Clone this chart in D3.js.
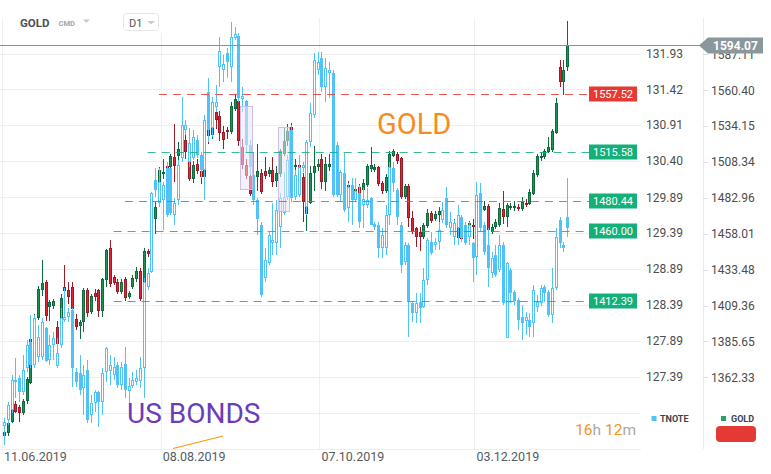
<!DOCTYPE html>
<html><head><meta charset="utf-8">
<script src="https://cdn.jsdelivr.net/npm/d3@7"></script>
<style>body{margin:0;background:#fff;}svg{display:block;font-family:Roboto,"Noto Sans",sans-serif;}</style>
</head><body><svg id="c" width="771" height="474"></svg>
<script>
// ---------- DATA ----------
const holidays = ["2019-12-25","2020-01-01"];
const xTickDates = ["2019-06-11","2019-08-08","2019-10-07","2019-12-03"];
const tnoteTicks = [131.93,131.42,130.91,130.40,129.89,129.39,128.89,128.39,127.89,127.39];
const tnoteExtraGrid = [126.89,126.39];
const goldTicks = [1587.11,1560.40,1534.15,1508.34,1482.96,1458.01,1433.48,1409.36,1385.65,1362.33];
const levels = [
 {price:1557.52, label:"1557.52", color:"#e53935", from:"2019-08-07"},
 {price:1515.58, label:"1515.58", color:"#14b07a", from:"2019-08-02"},
 {price:1480.44, label:"1480.44", color:"#14b07a", from:"2019-07-25"},
 {price:1460.00, label:"1460.00", color:"#14b07a", from:"2019-07-22"},
 {price:1412.39, label:"1412.39", color:"#14b07a", from:"2019-07-22"}
];
const boxes = [
 {from:"2019-09-06", to:"2019-09-10", top:1548.8, bottom:1489.4},
 {from:"2019-09-20", to:"2019-09-24", top:1533.5, bottom:1473.7}
];
// [open, high, low, close]
const goldOHLC = [
[1325.4,1329.2,1324.2,1327.9],[1326.7,1334.2,1325.4,1333.0],[1333.6,1343.1,1333.0,1341.8],[1345.0,1346.9,1339.3,1340.5],
[1343.1,1344.4,1334.2,1339.9],[1339.9,1348.2,1338.6,1346.9],[1346.9,1362.3,1345.6,1361.0],[1359.0,1389.0,1357.8,1387.0],
[1383.7,1403.5,1382.5,1400.2],[1400.8,1422.3,1399.5,1420.2],[1419.5,1439.8,1416.1,1424.2],[1424.9,1426.2,1398.9,1402.2],
[1408.1,1412.8,1398.9,1411.5],[1409.4,1413.5,1406.8,1412.1],[1394.9,1398.9,1381.8,1383.7],[1398.9,1416.8,1396.9,1414.2],
[1421.6,1436.4,1413.5,1418.8],[1419.5,1424.9,1410.7,1414.8],[1421.6,1425.5,1403.5,1406.8],[1400.2,1403.5,1393.0,1394.9],
[1395.6,1399.5,1387.0,1398.2],[1398.2,1420.9,1391.6,1419.5],[1419.5,1420.9,1401.5,1404.2],[1404.8,1416.8,1403.5,1415.5],
[1417.5,1420.2,1412.1,1414.8],[1419.5,1420.2,1401.5,1405.5],[1405.5,1427.6,1401.5,1426.9],[1426.2,1447.3,1421.6,1446.6],
[1448.0,1453.5,1421.6,1423.5],[1428.3,1429.6,1422.9,1424.2],[1425.5,1426.9,1416.8,1418.2],[1418.2,1426.9,1416.8,1425.5],
[1426.9,1428.3,1412.1,1414.2],[1414.8,1418.8,1413.5,1417.5],[1421.6,1429.6,1420.2,1427.6],[1426.9,1435.1,1425.5,1432.3],
[1432.3,1434.4,1412.1,1413.5],[1414.8,1448.0,1411.5,1445.9],[1445.9,1447.3,1441.9,1443.9],[1443.9,1466.6,1441.9,1463.8],
[1468.0,1479.8,1457.6,1476.3],[1484.0,1504.5,1481.9,1502.4],[1499.6,1510.2,1496.0,1501.0],[1505.2,1506.6,1499.6,1500.3],
[1504.5,1513.8,1503.1,1512.4],[1511.6,1535.5,1493.9,1505.2],[1512.4,1522.4,1508.8,1517.4],[1513.8,1526.0,1512.4,1522.4],
[1523.9,1531.8,1510.2,1515.2],[1510.2,1511.6,1494.6,1496.0],[1496.0,1508.8,1493.2,1505.9],[1506.6,1510.2,1499.6,1501.7],
[1501.7,1506.6,1492.5,1497.4],[1497.4,1527.5,1491.8,1525.3],[1533.3,1553.7,1521.0,1526.7],[1527.5,1545.0,1524.6,1535.5],
[1544.2,1550.0,1531.8,1538.4],[1541.3,1545.0,1523.2,1528.9],[1529.6,1534.0,1517.4,1523.9],[1531.1,1533.3,1524.6,1529.6],
[1529.6,1551.5,1528.2,1548.6],[1546.4,1557.4,1545.0,1553.7],[1552.2,1557.4,1519.6,1523.2],[1518.8,1524.6,1503.1,1505.9],
[1505.9,1510.2,1496.0,1498.1],[1498.1,1501.7,1484.0,1485.4],[1495.3,1508.8,1491.8,1498.1],[1497.4,1521.0,1487.5,1501.7],
[1500.3,1503.1,1485.4,1486.8],[1501.7,1511.6,1496.0,1498.1],[1499.6,1504.5,1497.4,1502.4],[1502.4,1511.6,1490.3,1493.9],
[1494.6,1505.2,1490.3,1500.3],[1499.6,1517.4,1497.4,1516.0],[1513.8,1533.3,1512.4,1523.2],[1523.2,1535.5,1519.6,1530.4],
[1533.3,1536.2,1516.0,1517.4],[1504.5,1510.2,1501.7,1505.9],[1505.9,1510.2,1499.6,1501.7],[1497.4,1500.3,1465.9,1479.8],
[1471.5,1480.5,1459.6,1479.8],[1479.1,1505.2,1478.4,1500.3],[1500.3,1519.6,1487.5,1505.2],[1504.5,1510.2,1501.7,1506.6],
[1510.2,1513.8,1488.9,1493.9],[1493.9,1511.6,1487.5,1506.6],[1504.5,1513.8,1501.7,1506.6],[1506.6,1517.4,1492.5,1493.9],
[1493.9,1501.7,1485.4,1488.9],[1487.5,1498.8,1485.4,1494.6],[1493.2,1497.4,1487.5,1491.1],[1491.8,1494.6,1486.8,1490.3],
[1486.8,1493.2,1483.3,1491.1],[1484.0,1491.8,1481.9,1488.9],[1490.3,1492.5,1483.3,1485.4],[1488.2,1496.0,1485.4,1493.2],
[1491.8,1506.6,1490.3,1505.2],[1503.1,1518.8,1501.0,1505.9],[1502.4,1506.6,1501.0,1504.5],[1504.5,1505.2,1491.1,1492.5],
[1493.2,1494.6,1485.4,1487.5],[1487.5,1499.6,1486.1,1497.4],[1497.4,1516.0,1496.0,1513.8],[1512.4,1517.4,1511.6,1516.0],
[1513.8,1515.2,1506.6,1508.8],[1510.9,1511.6,1481.9,1483.3],[1483.3,1492.5,1481.9,1491.1],[1491.1,1492.5,1462.4,1468.7],
[1468.7,1473.5,1457.6,1459.0],[1461.7,1462.4,1448.7,1455.6],[1459.0,1462.4,1446.0,1455.6],[1455.6,1465.2,1454.2,1463.8],
[1463.1,1474.9,1461.7,1472.1],[1472.1,1473.5,1465.2,1466.6],[1468.0,1473.5,1466.6,1471.5],[1470.8,1476.3,1465.9,1473.5],
[1469.4,1474.9,1466.6,1472.1],[1472.1,1476.3,1463.8,1467.3],[1465.2,1469.4,1461.0,1463.1],[1462.4,1468.0,1456.9,1465.2],
[1454.9,1463.8,1454.2,1462.4],[1455.6,1457.6,1452.1,1454.2],[1459.6,1462.4,1454.2,1456.9],[1455.6,1466.6,1454.2,1465.2],
[1463.8,1468.0,1454.2,1462.4],[1462.4,1477.7,1459.6,1474.9],[1474.9,1478.4,1470.8,1473.5],[1474.2,1480.5,1473.5,1477.0],
[1477.0,1478.4,1459.6,1460.3],[1459.0,1464.5,1457.6,1462.4],[1462.4,1468.0,1461.0,1465.9],[1463.8,1479.1,1462.4,1475.6],
[1474.9,1487.5,1464.5,1469.4],[1469.4,1479.1,1462.4,1477.7],[1475.6,1479.1,1474.2,1477.0],[1475.6,1480.5,1473.5,1477.0],
[1476.3,1478.4,1473.5,1474.9],[1474.9,1483.3,1473.5,1479.8],[1479.1,1481.9,1476.3,1477.7],[1478.4,1488.9,1477.7,1486.8],
[1485.4,1502.4,1484.7,1500.3],[1498.8,1513.8,1497.4,1512.4],[1511.6,1515.2,1508.8,1512.4],[1511.6,1517.4,1510.2,1516.0],
[1515.2,1526.0,1514.5,1518.8],[1516.7,1531.8,1515.2,1530.4],[1529.0,1554.5,1528.2,1550.8],[1577.4,1582.6,1562.6,1566.3],
[1566.3,1582.6,1556.7,1575.2],[1577.4,1612.1,1574.4,1594.07]
];
const tnoteOHLC = [
[126.71,126.82,126.45,126.77],[126.79,127.04,126.73,127.00],[126.93,127.41,126.89,127.35],[127.35,127.65,127.10,127.32],
[127.37,127.41,127.04,127.18],[127.18,127.69,127.14,127.48],[127.51,127.90,127.46,127.83],[127.87,128.25,127.51,127.55],
[127.55,128.25,127.51,128.20],[127.66,128.11,127.59,127.94],[127.66,128.20,127.62,128.15],[128.06,128.08,127.59,127.61],
[127.62,127.97,127.55,127.83],[127.83,128.01,127.62,127.93],[127.54,127.93,127.51,127.72],[127.83,128.34,127.79,128.20],
[128.18,128.62,128.15,128.22],[128.22,128.34,128.15,128.29],[128.31,128.34,127.25,127.51],[127.46,127.51,127.25,127.32],
[127.44,127.69,127.14,127.21],[127.24,127.55,126.86,127.41],[127.48,127.62,126.75,126.79],[126.86,127.14,126.75,127.03],
[127.03,127.21,126.90,127.18],[127.18,127.19,126.70,127.04],[127.04,127.51,126.86,127.44],[127.46,127.80,127.32,127.79],
[127.47,127.69,127.28,127.55],[127.41,127.66,127.35,127.52],[127.55,127.59,127.24,127.28],[127.28,127.59,127.21,127.52],
[127.57,127.80,127.10,127.21],[127.19,127.37,127.03,127.26],[127.26,127.46,127.24,127.35],[127.32,127.48,127.28,127.37],
[127.33,127.66,127.24,127.51],[127.51,128.76,127.10,128.70],[128.63,128.90,128.59,128.83],[128.84,129.97,128.83,129.95],
[130.13,130.30,129.89,129.99],[129.81,130.30,129.75,130.11],[129.85,130.11,129.43,130.06],[130.30,130.39,129.61,129.64],
[130.30,130.30,129.64,129.67],[129.64,129.88,129.50,129.81],[129.85,130.42,129.78,130.35],[130.45,131.31,130.39,130.91],
[130.84,130.98,130.77,130.91],[130.39,130.87,130.32,130.66],[130.45,130.84,130.42,130.74],[130.70,130.77,130.45,130.49],
[130.49,130.53,130.16,130.28],[130.28,131.05,129.85,130.98],[131.38,131.58,130.67,130.84],[130.87,131.31,130.74,131.24],
[131.17,131.48,131.10,131.24],[131.74,132.17,131.45,131.97],[131.70,131.91,131.52,131.78],[131.94,132.01,131.58,131.81],
[131.74,132.38,131.52,132.17],[132.15,132.31,132.12,132.21],[132.18,132.22,131.24,131.30],[131.28,131.45,131.10,131.32],
[131.25,131.27,130.53,130.63],[130.63,130.70,130.21,130.32],[130.21,130.53,129.78,129.85],[129.85,129.88,129.36,129.59],
[129.50,129.54,128.50,128.52],[128.76,129.18,128.70,129.01],[128.97,129.40,128.94,129.36],[129.25,129.81,129.08,129.29],
[129.25,129.85,129.08,129.71],[129.47,129.95,129.18,129.88],[129.67,130.25,129.64,129.89],[129.89,130.49,129.85,130.42],
[130.84,130.91,129.82,129.88],[129.89,130.28,129.85,130.21],[129.92,130.49,129.89,130.32],[130.30,130.39,130.25,130.35],
[129.75,130.70,129.64,130.67],[130.67,131.23,130.60,131.08],[131.05,131.94,131.01,131.84],[131.70,131.95,131.62,131.81],
[131.87,131.95,131.38,131.45],[131.45,131.87,131.24,131.72],[131.65,131.81,131.30,131.70],[131.65,131.70,129.89,129.92],
[130.63,130.67,129.89,129.92],[129.92,130.28,129.82,130.25],[130.23,130.52,129.68,129.71],[129.74,130.09,129.54,130.04],
[130.06,130.16,129.50,129.85],[129.85,130.16,129.82,129.98],[129.95,130.06,129.46,129.54],[129.78,130.02,129.46,129.87],
[129.78,130.02,129.74,129.85],[129.88,129.89,129.50,129.50],[129.52,129.54,129.43,129.47],[129.50,129.54,129.04,129.18],
[129.18,129.46,129.04,129.36],[129.18,129.78,129.08,129.64],[129.64,130.39,129.50,130.32],[130.30,130.39,129.97,130.09],
[129.99,130.02,129.50,129.61],[129.50,129.54,128.83,128.94],[128.98,129.26,128.94,129.22],[129.22,129.25,127.94,128.43],
[128.41,128.43,128.15,128.27],[128.27,128.55,128.13,128.41],[128.43,128.55,128.13,128.34],[128.36,128.90,128.34,128.73],
[128.73,129.32,128.66,129.29],[129.26,129.40,129.08,129.11],[129.22,129.32,129.15,129.26],[129.26,129.54,129.15,129.43],
[129.57,129.82,129.53,129.71],[129.88,130.04,129.46,129.50],[129.46,129.68,129.36,129.54],[129.33,129.57,129.22,129.53],
[129.46,129.78,129.22,129.64],[129.61,129.64,129.26,129.32],[129.50,129.54,129.22,129.25],[129.33,129.54,129.22,129.50],
[129.25,129.26,128.70,129.04],[129.05,130.11,128.80,129.92],[129.95,130.09,129.40,129.46],[129.50,129.54,129.08,129.12],
[129.22,129.46,128.63,128.90],[128.83,129.12,128.76,129.04],[129.08,129.22,128.77,128.80],[128.87,129.36,128.84,129.22],
[129.22,129.26,128.38,128.41],[127.93,128.98,127.93,128.97],[128.87,128.90,128.41,128.55],[128.56,128.59,128.38,128.44],
[128.45,128.48,128.04,128.18],[128.22,128.38,127.90,128.13],[128.16,128.29,127.97,128.22],[128.18,128.27,127.94,128.08],
[128.13,128.66,127.94,128.59],[128.36,128.52,128.29,128.43],[128.41,128.66,128.37,128.62],[128.63,128.66,128.43,128.55],
[128.56,128.59,128.22,128.25],[128.25,128.90,128.13,128.62],[128.62,129.46,128.59,129.33],[129.57,129.61,129.18,129.25],
[129.22,129.26,129.12,129.18],[129.61,130.16,129.33,129.46]
];

// ---------- CATEGORIES (trading days) ----------
const dates = [];
for (let t = Date.UTC(2019,5,11); t <= Date.UTC(2020,0,8); t += 86400000) {
  const d = new Date(t), wd = d.getUTCDay(), s = d.toISOString().slice(0,10);
  if (wd !== 0 && wd !== 6 && !holidays.includes(s)) dates.push(s);
}
const idx = s => dates.indexOf(s);
const fmtDate = s => s.slice(8,10) + "." + s.slice(5,7) + "." + s.slice(0,4);

// ---------- SCALES ----------
const svg = d3.select("#c");
const xs = d3.scaleLinear().domain([0, goldOHLC.length - 1]).range([4, 567.1]);
const yG = d3.scaleLog().domain([1587.11, 1362.33]).range([54.3, 377.4]);
const yT = d3.scaleLog().domain([131.93, 127.39]).range([53.5, 376.7]);
const plotRight = 641;

svg.append("rect").attr("width",771).attr("height",474).attr("fill","#fff");

// grid
svg.append("g").selectAll("line").data(tnoteTicks.concat(tnoteExtraGrid)).join("line")
  .attr("x1",0).attr("x2",plotRight)
  .attr("y1",d=>Math.round(yT(d))+0.5).attr("y2",d=>Math.round(yT(d))+0.5)
  .attr("stroke","#efefef");
svg.append("g").selectAll("line").data(xTickDates).join("line")
  .attr("x1",d=>Math.round(xs(idx(d)))-1.5).attr("x2",d=>Math.round(xs(idx(d)))-1.5)
  .attr("y1",(d,i)=> i===1 ? 33 : 18).attr("y2",450)
  .attr("stroke","#efefef");
// right axis separator
svg.append("line").attr("x1",703.5).attr("x2",703.5).attr("y1",18).attr("y2",449).attr("stroke","#ececec");

// ---------- CANDLES ----------
function drawCandles(data, y, style) {
  const g = svg.append("g");
  const items = data.map((d,i)=>{
    const [o,h,l,c] = d, up = c >= o;
    const cx = Math.round(xs(i));
    let top = Math.round(y(Math.max(o,c))), bot = Math.round(y(Math.min(o,c)));
    if (bot - top < 2) bot = top + 2;
    return {cx, up, top, bot, yh: Math.round(y(h)), yl: Math.round(y(l))};
  });
  const sel = g.selectAll("g").data(items).join("g");
  sel.append("line")
    .attr("x1",d=>d.cx+0.5).attr("x2",d=>d.cx+0.5)
    .attr("y1",d=>d.yh).attr("y2",d=>d.yl)
    .attr("stroke",d=>style.wick(d.up)).attr("stroke-width",1);
  sel.append("rect")
    .attr("x",d=>d.cx-0.5).attr("width",2)
    .attr("y",d=>d.top+0.5).attr("height",d=>Math.max(d.bot-d.top-1,1))
    .attr("fill",d=>style.fill(d.up)).attr("stroke",d=>style.stroke(d.up)).attr("stroke-width",1);
}
drawCandles(goldOHLC, yG, {
  wick: up => up ? "#0f6b3d" : "#9c1b27",
  fill: up => up ? "#1c9257" : "#dc2537",
  stroke: up => up ? "#0f6b3d" : "#9c1b27"
});
drawCandles(tnoteOHLC, yT, {
  wick: () => "#4fc3f7",
  fill: up => up ? "#ffffff" : "#4fc3f7",
  stroke: () => "#4fc3f7"
});

// annotation boxes
svg.append("g").selectAll("rect").data(boxes).join("rect")
  .attr("x",d=>Math.round(xs(idx(d.from)))-1.5)
  .attr("width",d=>Math.round(xs(idx(d.to)))-Math.round(xs(idx(d.from)))+4)
  .attr("y",d=>Math.round(yG(d.top))+0.5)
  .attr("height",d=>Math.round(yG(d.bottom))-Math.round(yG(d.top)))
  .attr("fill","rgba(236,230,248,0.55)").attr("stroke","#cdbfe8").attr("stroke-width",1);

// level lines
const lvl = svg.append("g");
lvl.selectAll("line").data(levels).join("line")
  .attr("x1",d=>xs(idx(d.from))).attr("x2",589)
  .attr("y1",d=>Math.round(yG(d.price))+0.5).attr("y2",d=>Math.round(yG(d.price))+0.5)
  .attr("stroke",d=>d.color).attr("stroke-width",1.1).attr("stroke-dasharray","8,6").attr("opacity",0.85);
const lg = lvl.selectAll("g").data(levels).join("g")
  .attr("transform",d=>`translate(589,${Math.round(yG(d.price))})`);
lg.append("rect").attr("x",0).attr("y",-7.5).attr("width",48).attr("height",15).attr("fill",d=>d.color);
lg.append("text").attr("x",24).attr("y",0).attr("dy","0.36em").attr("text-anchor","middle")
  .attr("fill","#fff").attr("font-size",11).text(d=>d.label);

// text annotations
svg.append("text").attr("x",377).attr("y",133.5).attr("font-size",29).attr("fill","#f68b1f").text("GOLD");
svg.append("text").attr("x",127).attr("y",422.5).attr("font-size",28).attr("fill","#6a3db8").text("US BONDS");
svg.append("line").attr("x1",173).attr("y1",448.5).attr("x2",223).attr("y2",436)
  .attr("stroke","#ff9800").attr("stroke-width",1.2);

// ---------- AXES ----------
svg.append("g").selectAll("text").data(tnoteTicks).join("text")
  .attr("x",646).attr("y",d=>yT(d)).attr("dy","0.36em")
  .attr("font-size",12).attr("fill","#4d4d4d").text(d=>d.toFixed(2));
const gAx = svg.append("g");
gAx.selectAll("line").data(goldTicks).join("line")
  .attr("x1",703).attr("x2",708).attr("y1",d=>Math.round(yG(d))+0.5).attr("y2",d=>Math.round(yG(d))+0.5)
  .attr("stroke","#dcdcdc");
gAx.selectAll("text").data(goldTicks).join("text")
  .attr("x",711).attr("y",d=>yG(d)).attr("dy","0.36em")
  .attr("font-size",12).attr("fill","#4d4d4d").text(d=>d.toFixed(2));
svg.append("g").selectAll("text").data(xTickDates).join("text")
  .attr("x",d=>xs(idx(d))).attr("y",461)
  .attr("font-size",12.5).attr("fill","#555b60").text(d=>fmtDate(d));

// current price line + label
const last = goldOHLC[goldOHLC.length-1][3];
const yc = Math.round(yG(last)) + 0.5;
svg.append("line").attr("x1",0).attr("x2",702).attr("y1",yc).attr("y2",yc).attr("stroke","#86939a").attr("stroke-width",1);
svg.append("path").attr("d",`M699,${yc} L708,${yc-8} L763,${yc-8} L763,${yc+8} L708,${yc+8} Z`).attr("fill","#8a979c");
svg.append("text").attr("x",735.5).attr("y",yc).attr("dy","0.36em").attr("text-anchor","middle")
  .attr("font-size",12).attr("font-weight","bold").attr("fill","#fff").text(last.toFixed(2));

// ---------- HEADER ----------
svg.append("text").attr("x",20).attr("y",27).attr("font-size",11.5).attr("font-weight","bold").attr("fill","#4a5058").text("GOLD");
svg.append("text").attr("x",58.5).attr("y",26).attr("font-size",7.5).attr("font-weight","bold").attr("fill","#9ca6af").text("CMD");
svg.append("path").attr("d","M83,19.5 L90,19.5 L86.5,23 Z").attr("fill","#c5cbd0");
svg.append("rect").attr("x",123.5).attr("y",13.5).attr("width",35).attr("height",17).attr("rx",3)
  .attr("fill","#fff").attr("stroke","#e4e7ea");
svg.append("text").attr("x",129).attr("y",27).attr("font-size",11).attr("fill","#555").text("D1");
svg.append("path").attr("d","M147,21 L155,21 L151,24.5 Z").attr("fill","#c5cbd0");

// ---------- LEGEND / COUNTDOWN ----------
svg.append("rect").attr("x",651.5).attr("y",416).attr("width",5).attr("height",5).attr("fill","#4fc3f7");
svg.append("text").attr("x",660).attr("y",421.5).attr("font-size",9).attr("font-weight","bold").attr("fill","#3c4248").text("TNOTE");
svg.append("rect").attr("x",721).attr("y",416).attr("width",5).attr("height",5).attr("fill","#1fa563");
svg.append("text").attr("x",731).attr("y",421.5).attr("font-size",9).attr("font-weight","bold").attr("fill","#3c4248").text("GOLD");
svg.append("rect").attr("x",716).attr("y",426).attr("width",40).attr("height",16).attr("rx",4).attr("fill","#e53935");
const cd = svg.append("text").attr("x",636).attr("y",434.5).attr("text-anchor","end").attr("font-size",15.5);
cd.append("tspan").attr("fill","#f7941d").text("16");
cd.append("tspan").attr("fill","#a8a8a8").text("h ");
cd.append("tspan").attr("fill","#f7941d").text("12");
cd.append("tspan").attr("fill","#a8a8a8").text("m");
</script>
</body></html>
